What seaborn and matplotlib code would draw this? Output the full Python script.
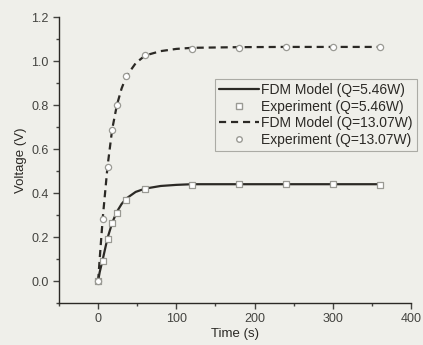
import matplotlib
matplotlib.use("Agg")
import matplotlib.pyplot as plt
from matplotlib.ticker import MultipleLocator, FormatStrFormatter
from matplotlib.lines import Line2D
import seaborn as sns
import pandas as pd

# model curves
t_model = [0, 2, 6, 12, 18, 24, 30, 36, 48, 60, 80, 100, 120, 180, 240, 300, 360]
v_model_546 = [0.0, 0.04, 0.10, 0.195, 0.265, 0.315, 0.35, 0.375, 0.405, 0.42, 0.432, 0.437, 0.44,
               0.44, 0.44, 0.44, 0.44]
v_model_1307 = [0.0, 0.10, 0.29, 0.52, 0.69, 0.80, 0.875, 0.93, 0.99, 1.025, 1.045, 1.055, 1.06,
                1.063, 1.064, 1.064, 1.064]

# experiment points
t_exp = [0, 6, 12, 18, 24, 36, 60, 120, 180, 240, 300, 360]
v_exp_546 = [0.0, 0.09, 0.19, 0.265, 0.31, 0.37, 0.42, 0.435, 0.44, 0.44, 0.44, 0.437]
v_exp_1307 = [0.0, 0.28, 0.52, 0.686, 0.80, 0.93, 1.027, 1.055, 1.06, 1.062, 1.062, 1.064]

labels = ["FDM Model (Q=5.46W)", "Experiment (Q=5.46W)",
          "FDM Model (Q=13.07W)", "Experiment (Q=13.07W)"]

bg = "#efefea"
ink = "#2b2925"
mk = "#9a9a94"
dash = (0, (3.2, 2.2))
sns.set_style("ticks")
plt.rcParams["font.family"] = ["Liberation Sans", "DejaVu Sans"]
plt.rcParams["text.color"] = ink
plt.rcParams["axes.labelcolor"] = ink
plt.rcParams["xtick.color"] = "#444440"
plt.rcParams["ytick.color"] = "#444440"

model = pd.DataFrame({"t": t_model, "a": v_model_546, "b": v_model_1307})
exp = pd.DataFrame({"t": t_exp, "a": v_exp_546, "b": v_exp_1307})

fig = plt.figure(figsize=(4.23, 3.45), dpi=100, facecolor=bg)
ax = fig.add_axes([0.1395, 0.1217, 0.8322, 0.829])
ax.set_facecolor(bg)

sns.lineplot(data=model, x="t", y="a", ax=ax, color=ink, linewidth=1.6, zorder=2)
sns.lineplot(data=model, x="t", y="b", ax=ax, color=ink, linewidth=1.6,
             linestyle=dash, zorder=2)
sns.scatterplot(data=exp, x="t", y="a", ax=ax, marker="s", s=18, facecolor="white",
                edgecolor=mk, linewidth=0.9, zorder=3)
sns.scatterplot(data=exp, x="t", y="b", ax=ax, marker="o", s=20, facecolor="white",
                edgecolor=mk, linewidth=0.9, zorder=3)

ax.set_xlim(-50, 400)
ax.set_ylim(-0.1, 1.2)
ax.xaxis.set_major_locator(MultipleLocator(100))
ax.xaxis.set_minor_locator(MultipleLocator(50))
ax.yaxis.set_major_locator(MultipleLocator(0.2))
ax.yaxis.set_minor_locator(MultipleLocator(0.1))
ax.yaxis.set_major_formatter(FormatStrFormatter("%.1f"))
ax.tick_params(which="major", length=4, width=1, labelsize=9)
ax.tick_params(which="minor", length=2.5, width=1)
sns.despine(ax=ax)
for s in ["left", "bottom"]:
    ax.spines[s].set_color(ink)
    ax.spines[s].set_linewidth(1)

ax.set_xlabel("Time (s)", fontsize=9.5, labelpad=2)
ax.set_ylabel("Voltage (V)", fontsize=9.5, labelpad=3)

handles = [
    Line2D([], [], color=ink, linewidth=1.6),
    Line2D([], [], marker="s", linestyle="none", markersize=4, markerfacecolor="white",
           markeredgecolor=mk),
    Line2D([], [], color=ink, linewidth=1.6, linestyle=dash),
    Line2D([], [], marker="o", linestyle="none", markersize=4, markerfacecolor="white",
           markeredgecolor=mk),
]
leg = ax.legend(handles, labels, loc="upper left", bbox_to_anchor=(0.443, 0.783),
                fontsize=10, frameon=True, fancybox=False, borderpad=0.3,
                labelspacing=0.18, handlelength=2.9, handletextpad=0.15,
                borderaxespad=0)
leg.get_frame().set_edgecolor(mk)
leg.get_frame().set_facecolor(bg)
leg.get_frame().set_linewidth(0.8)

fig.savefig("out.png", dpi=100, facecolor=bg)
